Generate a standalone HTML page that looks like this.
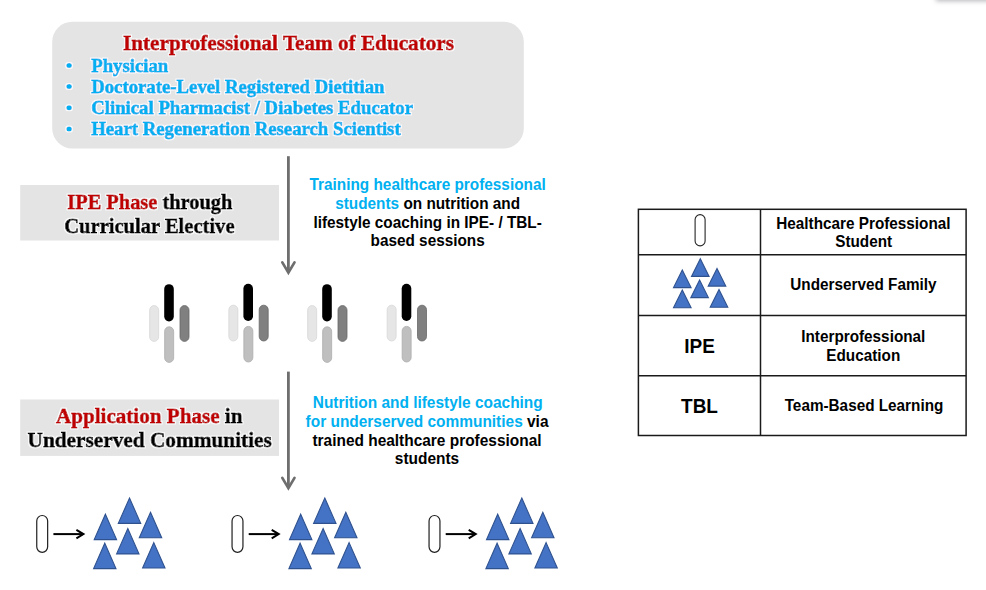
<!DOCTYPE html>
<html><head><meta charset="utf-8">
<style>
html,body{margin:0;padding:0;background:#fff;width:986px;height:590px;overflow:hidden}
svg{display:block}
.serif{font-family:"Liberation Serif",serif;font-weight:bold;stroke-width:0.8px;filter:url(#glow)}
.sans{font-family:"Liberation Sans",sans-serif;font-weight:bold}
</style></head><body>
<svg width="986" height="590" viewBox="0 0 986 590">
<defs>
  <filter id="glow" x="-10%" y="-30%" width="120%" height="160%"><feMorphology in="SourceAlpha" operator="dilate" radius="0.9" result="d"/><feGaussianBlur in="d" stdDeviation="0.7" result="b"/><feFlood flood-color="#ffffff" flood-opacity="0.85"/><feComposite in2="b" operator="in" result="g"/><feMerge><feMergeNode in="g"/><feMergeNode in="SourceGraphic"/></feMerge></filter>
  <filter id="blur2" x="-50%" y="-100%" width="200%" height="300%"><feGaussianBlur stdDeviation="2.6"/></filter>
  <g id="tri"><path d="M0,-12.7 L11.2,12.7 L-11.2,12.7 Z" fill="#4472C4" stroke="#2F528F" stroke-width="1.1"/></g>
  <g id="stri"><path d="M0,-8.8 L8.8,8.8 L-8.8,8.8 Z" fill="#4472C4" stroke="#2F528F" stroke-width="1.1"/></g>
  <g id="fam">
    <use href="#tri" x="129.5" y="510.7"/>
    <use href="#tri" x="105.4" y="526.9"/>
    <use href="#tri" x="150.5" y="525.0"/>
    <use href="#tri" x="127.8" y="541.2"/>
    <use href="#tri" x="104.8" y="555.9"/>
    <use href="#tri" x="153.8" y="555.3"/>
  </g>
  <g id="stud">
    <rect x="149.65" y="305.6" width="9" height="35.8" rx="4.5" fill="#E6E6E6" stroke="#D8D8D8" stroke-width="0.8"/>
    <rect x="164.2" y="284.2" width="9.6" height="37.2" rx="4.8" fill="#000"/>
    <rect x="180.0" y="305.6" width="9" height="35.8" rx="4.5" fill="#808080" stroke="#686868" stroke-width="0.8"/>
    <rect x="164.65" y="326.8" width="9" height="35.6" rx="4.5" fill="#BFBFBF" stroke="#ADADAD" stroke-width="0.8"/>
  </g>
  <g id="pa">
    <rect x="36.75" y="515.5" width="10.9" height="36.8" rx="5.45" fill="#fff" stroke="#202020" stroke-width="1.2"/>
    <line x1="53.4" y1="534.1" x2="83" y2="534.1" stroke="#000" stroke-width="2"/>
    <polyline points="76.4,529.9 83.4,534.1 76.4,538.3" fill="none" stroke="#000" stroke-width="2"/>
  </g>
</defs>

<!-- top right shadow -->
<rect x="936" y="-9" width="80" height="10" fill="#B4B4BA" filter="url(#blur2)"/>

<!-- top box -->
<rect x="52.2" y="21.8" width="471.6" height="126.6" rx="20" fill="#E4E4E4"/>
<text class="serif" x="288.5" y="50.4" text-anchor="middle" font-size="21.2" fill="#C00000" stroke="#C00000">Interprofessional Team of Educators</text>
<g class="serif" font-size="18.75" fill="#00B0F0" stroke="#00B0F0">
  <ellipse cx="69.1" cy="65.4" rx="2.8" ry="2.5" stroke="none"/>
  <ellipse cx="69.1" cy="86.6" rx="2.8" ry="2.5" stroke="none"/>
  <ellipse cx="69.1" cy="107.8" rx="2.8" ry="2.5" stroke="none"/>
  <ellipse cx="69.1" cy="129.1" rx="2.8" ry="2.5" stroke="none"/>
  <text x="91.2" y="71.8">Physician</text>
  <text x="91.2" y="92.7">Doctorate-Level Registered Dietitian</text>
  <text x="91.2" y="113.6">Clinical Pharmacist / Diabetes Educator</text>
  <text x="91.2" y="134.6">Heart Regeneration Research Scientist</text>
</g>

<!-- IPE phase box -->
<rect x="20.2" y="185" width="258.8" height="55.5" fill="#E4E4E4"/>
<g class="serif" font-size="20.4" text-anchor="middle" fill="#000" stroke="#000">
  <text x="149.8" y="209.4"><tspan fill="#C00000" stroke="#C00000">IPE Phase</tspan> through</text>
  <text x="149.4" y="232.9" font-size="20.55">Curricular Elective</text>
</g>

<!-- arrow 1 -->
<line x1="288.4" y1="156.2" x2="288.4" y2="271" stroke="#6E6E6E" stroke-width="2.8"/>
<polyline points="282.3,262.4 288.4,272.6 294.5,262.4" fill="none" stroke="#6E6E6E" stroke-width="2.7" stroke-linecap="round" stroke-linejoin="miter"/>

<g class="sans" font-size="15.35" text-anchor="middle" fill="#000">
<text x="427.65" y="189.6" transform="matrix(1,0,0,1.1,0,-18.960)" fill="#00B0F0">Training healthcare professional</text>
<text x="427.65" y="208.9" transform="matrix(1,0,0,1.1,0,-20.890)"><tspan fill="#00B0F0">students</tspan> on nutrition and</text>
<text x="427.65" y="227.7" transform="matrix(1,0,0,1.1,0,-22.770)">lifestyle coaching in IPE- / TBL-</text>
<text x="427.65" y="246.3" transform="matrix(1,0,0,1.1,0,-24.630)">based sessions</text>
</g>

<!-- student groups -->
<use href="#stud" x="0" y="0"/>
<use href="#stud" x="79.2" y="-0.4"/>
<use href="#stud" x="158" y="0"/>
<use href="#stud" x="237.5" y="-0.4"/>

<!-- Application box -->
<rect x="20.2" y="399.5" width="258.8" height="56.4" fill="#E4E4E4"/>
<g class="serif" font-size="21.1" text-anchor="middle" fill="#000" stroke="#000">
  <text x="149.2" y="423.3"><tspan fill="#C00000" stroke="#C00000">Application Phase</tspan> in</text>
  <text x="149.7" y="447" font-size="21.3">Underserved Communities</text>
</g>

<!-- arrow 2 -->
<line x1="288.4" y1="371.6" x2="288.4" y2="486.5" stroke="#6E6E6E" stroke-width="2.8"/>
<polyline points="282.3,477.9 288.4,488.1 294.5,477.9" fill="none" stroke="#6E6E6E" stroke-width="2.7" stroke-linecap="round" stroke-linejoin="miter"/>

<g class="sans" font-size="15.45" text-anchor="middle" fill="#000">
<text x="427.75" y="408.0" transform="matrix(1,0,0,1.1,0,-40.800)" fill="#00B0F0">Nutrition and lifestyle coaching</text>
<text x="427.05" y="426.7" transform="matrix(1,0,0,1.1,0,-42.670)"><tspan fill="#00B0F0">for underserved communities</tspan> via</text>
<text x="427.0" y="445.6" transform="matrix(1,0,0,1.1,0,-44.560)">trained healthcare professional</text>
<text x="427.0" y="464.3" transform="matrix(1,0,0,1.1,0,-46.430)">students</text>
</g>

<!-- bottom groups -->
<use href="#pa"/><use href="#fam"/>
<use href="#pa" x="195.3"/><use href="#fam" x="195.3"/>
<use href="#pa" x="392.3"/><use href="#fam" x="392.3"/>

<!-- legend table -->
<g stroke="#1A1A1A" stroke-width="1.5" fill="none">
  <rect x="638.4" y="209.3" width="327.7" height="226.2"/>
  <line x1="760.5" y1="209.3" x2="760.5" y2="435.5"/>
  <line x1="638.4" y1="254.8" x2="966.1" y2="254.8"/>
  <line x1="638.4" y1="315.4" x2="966.1" y2="315.4"/>
  <line x1="638.4" y1="375.7" x2="966.1" y2="375.7"/>
</g>
<rect x="695.1" y="214.6" width="10" height="31.3" rx="5" fill="#fff" stroke="#262626" stroke-width="1.1"/>
<use href="#stri" x="700.3" y="267.6"/>
<use href="#stri" x="682.3" y="278.8"/>
<use href="#stri" x="717" y="277.3"/>
<use href="#stri" x="699.6" y="288.8"/>
<use href="#stri" x="682.3" y="298.9"/>
<use href="#stri" x="719" y="298.4"/>

<g class="sans" text-anchor="middle" fill="#000">
<g font-size="19">
<text x="699.5" y="352.9" transform="matrix(1,0,0,1.07,0,-24.703)">IPE</text>
<text x="699.5" y="413.1" transform="matrix(1,0,0,1.07,0,-28.917)">TBL</text>
</g><g font-size="15.3">
<text x="863.4" y="228.6" transform="matrix(1,0,0,1.1,0,-22.860)">Healthcare Professional</text>
<text x="863.7" y="247.3" transform="matrix(1,0,0,1.1,0,-24.730)">Student</text>
<text x="863.4" y="289.7" transform="matrix(1,0,0,1.1,0,-28.970)">Underserved Family</text>
<text x="863.3" y="342.1" transform="matrix(1,0,0,1.1,0,-34.210)">Interprofessional</text>
<text x="863.3" y="360.8" transform="matrix(1,0,0,1.1,0,-36.080)">Education</text>
<text x="864" y="410.7" transform="matrix(1,0,0,1.1,0,-41.070)">Team-Based Learning</text>
</g></g>
</svg>
</body></html>
